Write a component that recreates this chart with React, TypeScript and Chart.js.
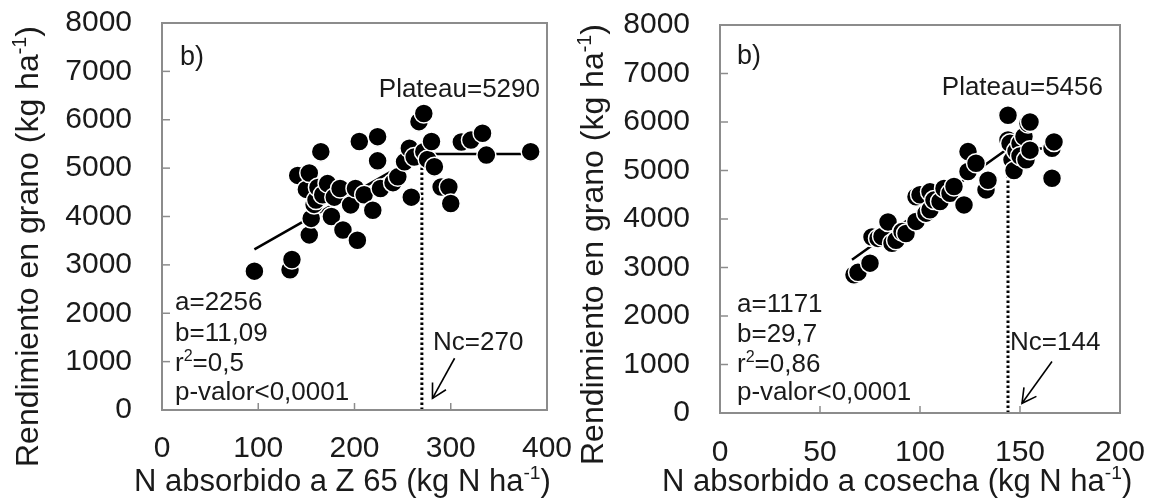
import React, { useEffect, useRef } from "react";
import { Chart, registerables } from "chart.js";

Chart.register(...registerables);

const FONT = '"Liberation Sans", Arial, Helvetica, sans-serif';
const TEXT = "#1a1a1a";

type Seg = { t: string; sup?: boolean };

// ---------- Panel 1: N absorbido a Z 65 ----------
const z65X = [96, 133, 135, 141, 150, 153, 153, 155, 158, 160, 162, 165, 167, 172, 176, 179, 185, 188, 196, 201, 203, 205, 210, 219, 224, 224, 227, 240, 245, 252, 257, 259, 262, 267, 272, 272, 276, 280, 283, 290, 298, 300, 311, 321, 333, 337, 383];
const z65Y = [2870, 2900, 3110, 4850, 4560, 4900, 3620, 3960, 4250, 4340, 4600, 5340, 4450, 4680, 4000, 4400, 4580, 3720, 4240, 4580, 3510, 5550, 4450, 4130, 5650, 5150, 4580, 4700, 4820, 5130, 5410, 4400, 5230, 5960, 6130, 5340, 5180, 5550, 5030, 4610, 4610, 4270, 5540, 5580, 5720, 5270, 5340];
const z65FitX = [96, 270, 383];
const z65FitY = [3320, 5290, 5290];
const z65Nc = 270;
const z65Plateau = 5290;
const z65ArrowX = [304, 281];
const z65ArrowY = [1070, 240];
const z65XTicks = [0, 100, 200, 300, 400];
const z65Stats: Seg[][] = [
  [{ t: "a=2256" }],
  [{ t: "b=11,09" }],
  [{ t: "r" }, { t: "2", sup: true }, { t: "=0,5" }],
  [{ t: "p-valor<0,0001" }],
];
const z65XTitle: Seg[] = [{ t: "N absorbido a Z 65 (kg N ha" }, { t: "-1", sup: true }, { t: ")" }];

// ---------- Panel 2: N absorbido a cosecha ----------
const cosX = [67, 69, 75, 76, 79, 81, 84, 86, 88, 91, 93, 98, 98, 100, 103, 105, 105, 107, 110, 112, 115, 117, 122, 124, 124, 128, 133, 134, 144, 144, 145, 146, 147, 148, 150, 150, 152, 153, 154, 155, 155, 166, 167, 166];
const cosY = [2850, 2900, 3090, 3630, 3600, 3640, 3940, 3500, 3560, 3740, 3700, 3950, 4460, 4500, 4120, 4560, 4190, 4390, 4360, 4630, 4530, 4670, 4290, 4980, 5390, 5150, 4600, 4800, 6140, 5630, 5560, 5220, 5000, 5400, 5560, 5300, 5700, 5220, 5970, 5420, 6000, 5460, 5590, 4840];
const cosFitX = [66, 144, 167];
const cosFitY = [3160, 5456, 5456];
const cosNc = 144;
const cosPlateau = 5456;
const cosArrowX = [166, 151];
const cosArrowY = [1060, 200];
const cosXTicks = [0, 50, 100, 150, 200];
const cosStats: Seg[][] = [
  [{ t: "a=1171" }],
  [{ t: "b=29,7" }],
  [{ t: "r" }, { t: "2", sup: true }, { t: "=0,86" }],
  [{ t: "p-valor<0,0001" }],
];
const cosXTitle: Seg[] = [{ t: "N absorbido a cosecha (kg N ha" }, { t: "-1", sup: true }, { t: ")" }];

// ---------- shared ----------
const yTicks = [0, 1000, 2000, 3000, 4000, 5000, 6000, 7000, 8000];
const yTitle: Seg[] = [{ t: "Rendimiento en grano (kg ha" }, { t: "-1", sup: true }, { t: ")" }];
const panelLabel = "b)";

type Layout = {
  canvasLeft: number;
  canvasWidth: number;
  area: { l: number; r: number; t: number; b: number };
  xTickPad: number;
  bPos: [number, number];
  plateauRight: [number, number];
  ncPos: [number, number];
  statsLeft: number;
  statsBase: number[];
  yTitlePos: [number, number];
  xTitlePos: [number, number];
};

type Panel = {
  xs: number[];
  ys: number[];
  fitX: number[];
  fitY: number[];
  nc: number;
  plateau: number;
  arrowX: number[];
  arrowY: number[];
  xTicks: number[];
  stats: Seg[][];
  xTitle: Seg[];
  layout: Layout;
};

const H = 502;

function drawRich(ctx: CanvasRenderingContext2D, segs: Seg[], x: number, y: number, size: number) {
  let cx = x;
  ctx.textAlign = "left";
  ctx.textBaseline = "alphabetic";
  for (const s of segs) {
    const fs = s.sup ? size * 0.62 : size;
    ctx.font = `${fs}px ${FONT}`;
    ctx.fillText(s.t, cx, s.sup ? y - size * 0.38 : y);
    cx += ctx.measureText(s.t).width;
  }
}

function richWidth(ctx: CanvasRenderingContext2D, segs: Seg[], size: number) {
  let w = 0;
  for (const s of segs) {
    const fs = s.sup ? size * 0.62 : size;
    ctx.font = `${fs}px ${FONT}`;
    w += ctx.measureText(s.t).width;
  }
  return w;
}

function makeDecor(p: Panel) {
  const L = p.layout;
  const ox = L.canvasLeft;
  return {
    id: "decor",
    beforeDatasetsDraw(chart: any) {
      const ctx: CanvasRenderingContext2D = chart.ctx;
      const a = chart.chartArea;
      const xs = chart.scales.x;
      const ys = chart.scales.y;
      ctx.save();
      ctx.strokeStyle = "#8c8c8c";
      ctx.lineWidth = 1.5;
      for (const v of yTicks) {
        const py = ys.getPixelForValue(v);
        ctx.beginPath();
        ctx.moveTo(a.left, py);
        ctx.lineTo(a.left + 8, py);
        ctx.stroke();
      }
      for (const v of p.xTicks) {
        const px = xs.getPixelForValue(v);
        ctx.beginPath();
        ctx.moveTo(px, a.bottom);
        ctx.lineTo(px, a.bottom - 7);
        ctx.stroke();
      }
      ctx.restore();
    },
    afterDatasetsDraw(chart: any) {
      const ctx: CanvasRenderingContext2D = chart.ctx;
      const a = chart.chartArea;
      const xs = chart.scales.x;
      const ys = chart.scales.y;
      ctx.save();
      // box
      ctx.strokeStyle = "#8c8c8c";
      ctx.lineWidth = 2;
      ctx.strokeRect(a.left, a.top, a.right - a.left, a.bottom - a.top);

      // arrow
      const x1 = xs.getPixelForValue(p.arrowX[0]);
      const y1 = ys.getPixelForValue(p.arrowY[0]);
      const x2 = xs.getPixelForValue(p.arrowX[1]);
      const y2 = ys.getPixelForValue(p.arrowY[1]);
      ctx.strokeStyle = "#000";
      ctx.lineWidth = 1.6;
      ctx.beginPath();
      ctx.moveTo(x1, y1);
      ctx.lineTo(x2, y2);
      ctx.stroke();
      const ang = Math.atan2(y2 - y1, x2 - x1);
      const hl = 16;
      const ha = 0.5;
      ctx.beginPath();
      ctx.moveTo(x2 - hl * Math.cos(ang - ha), y2 - hl * Math.sin(ang - ha));
      ctx.lineTo(x2, y2);
      ctx.lineTo(x2 - hl * Math.cos(ang + ha), y2 - hl * Math.sin(ang + ha));
      ctx.stroke();

      // texts
      ctx.fillStyle = TEXT;
      const fs = 26;
      drawRich(ctx, [{ t: panelLabel }], L.bPos[0] - ox, L.bPos[1], 27);
      const plat: Seg[] = [{ t: `Plateau=${p.plateau}` }];
      const pw = richWidth(ctx, plat, fs);
      drawRich(ctx, plat, L.plateauRight[0] - ox - pw, L.plateauRight[1], fs);
      drawRich(ctx, [{ t: `Nc=${p.nc}` }], L.ncPos[0] - ox, L.ncPos[1], fs);
      p.stats.forEach((segs, i) => drawRich(ctx, segs, L.statsLeft - ox, L.statsBase[i], fs));

      // axis titles
      const tfs = 31;
      drawRich(ctx, p.xTitle, L.xTitlePos[0] - ox, L.xTitlePos[1], tfs);
      ctx.save();
      ctx.translate(L.yTitlePos[0] - ox, L.yTitlePos[1]);
      ctx.rotate(-Math.PI / 2);
      drawRich(ctx, yTitle, 0, 0, 32);
      ctx.restore();
      ctx.restore();
    },
  };
}

function PanelChart({ p }: { p: Panel }) {
  const ref = useRef<HTMLCanvasElement>(null);
  useEffect(() => {
    const L = p.layout;
    const W = L.canvasWidth;
    const aL = L.area.l - L.canvasLeft;
    const aR = L.area.r - L.canvasLeft;
    const tickFont = { family: FONT, size: 30 };
    const plain = (v: any) => String(v);
    const chart = new Chart(ref.current!, {
      type: "scatter",
      data: {
        datasets: [
          {
            type: "scatter",
            data: p.xs.map((x, i) => ({ x, y: p.ys[i] })),
            pointRadius: 9.5,
            backgroundColor: "#000",
            borderColor: "#fff",
            borderWidth: 1.5,
            order: 0,
          },
          {
            type: "line",
            data: p.fitX.map((x, i) => ({ x, y: p.fitY[i] })),
            borderColor: "#000",
            borderWidth: 2.5,
            pointRadius: 0,
            fill: false,
            tension: 0,
            order: 1,
          },
          {
            type: "line",
            data: [
              { x: p.nc, y: 0 },
              { x: p.nc, y: p.plateau },
            ],
            borderColor: "#000",
            borderWidth: 3,
            borderDash: [2.5, 2.5],
            pointRadius: 0,
            fill: false,
            order: 2,
          },
        ] as any,
      },
      options: {
        responsive: false,
        animation: false,
        devicePixelRatio: 1,
        events: [],
        layout: { padding: { left: 0, top: L.area.t, right: W - aR, bottom: 0 } },
        plugins: { legend: { display: false }, tooltip: { enabled: false } },
        scales: {
          x: {
            type: "linear",
            min: 0,
            max: p.xTicks[p.xTicks.length - 1],
            ticks: { stepSize: p.xTicks[1] - p.xTicks[0], font: tickFont, color: TEXT, padding: L.xTickPad, maxRotation: 0, callback: plain },
            grid: { display: false, drawTicks: false },
            border: { display: false },
            afterFit: (s: any) => {
              s.height = H - L.area.b;
              s.paddingLeft = 0;
              s.paddingRight = 0;
            },
          },
          y: {
            type: "linear",
            min: 0,
            max: 8000,
            ticks: { stepSize: 1000, font: tickFont, color: TEXT, padding: 30, callback: plain },
            grid: { display: false, drawTicks: false },
            border: { display: false },
            afterFit: (s: any) => {
              s.width = aL;
              s.paddingTop = 0;
              s.paddingBottom = 0;
            },
          },
        },
      } as any,
      plugins: [makeDecor(p)],
    });
    return () => chart.destroy();
  }, []);
  const L = p.layout;
  return (
    <canvas
      ref={ref}
      width={L.canvasWidth}
      height={H}
      style={{ position: "absolute", left: L.canvasLeft, top: 0, width: L.canvasWidth, height: H }}
    />
  );
}

const leftPanel: Panel = {
  xs: z65X,
  ys: z65Y,
  fitX: z65FitX,
  fitY: z65FitY,
  nc: z65Nc,
  plateau: z65Plateau,
  arrowX: z65ArrowX,
  arrowY: z65ArrowY,
  xTicks: z65XTicks,
  stats: z65Stats,
  xTitle: z65XTitle,
  layout: {
    canvasLeft: 0,
    canvasWidth: 580,
    area: { l: 162, r: 547, t: 23, b: 410 },
    xTickPad: 21,
    bPos: [180, 65],
    plateauRight: [540, 97],
    ncPos: [433, 350],
    statsLeft: 175,
    statsBase: [310, 341, 371, 400],
    yTitlePos: [38, 467],
    xTitlePos: [134, 491],
  },
};

const rightPanel: Panel = {
  xs: cosX,
  ys: cosY,
  fitX: cosFitX,
  fitY: cosFitY,
  nc: cosNc,
  plateau: cosPlateau,
  arrowX: cosArrowX,
  arrowY: cosArrowY,
  xTicks: cosXTicks,
  stats: cosStats,
  xTitle: cosXTitle,
  layout: {
    canvasLeft: 565,
    canvasWidth: 592,
    area: { l: 720, r: 1120, t: 25, b: 413 },
    xTickPad: 22,
    bPos: [737, 64],
    plateauRight: [1103, 95],
    ncPos: [1010, 350],
    statsLeft: 737,
    statsBase: [312, 342, 372, 400],
    yTitlePos: [603, 465],
    xTitlePos: [662, 491],
  },
};

export default function App() {
  return (
    <div style={{ position: "fixed", left: 0, top: 0, width: 1157, height: H, background: "#fff", overflow: "hidden" }}>
      <PanelChart p={leftPanel} />
      <PanelChart p={rightPanel} />
    </div>
  );
}
